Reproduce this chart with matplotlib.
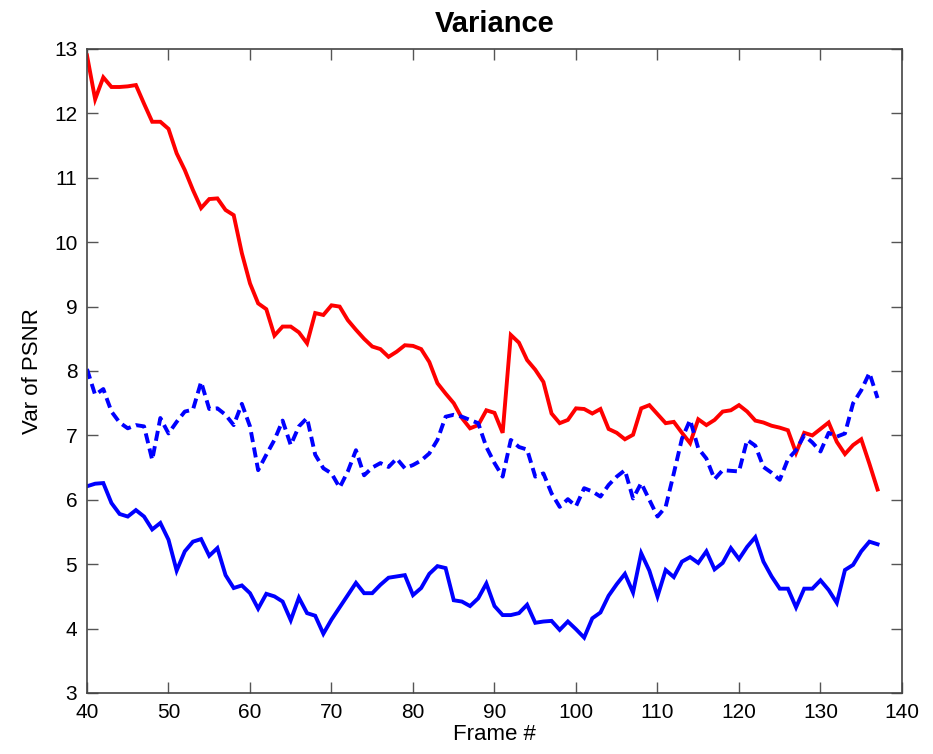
import matplotlib
matplotlib.use("Agg")
import matplotlib.pyplot as plt

plt.rcParams['font.family'] = ['Liberation Sans', 'DejaVu Sans']

frames = list(range(40, 138))

var_red = [12.9, 12.22, 12.56, 12.41, 12.41, 12.42, 12.44, 12.15, 11.87, 11.87,
           11.76, 11.38, 11.12, 10.81, 10.53, 10.67, 10.68, 10.5, 10.42, 9.83,
           9.36, 9.05, 8.96, 8.55, 8.69, 8.69, 8.6, 8.43, 8.9, 8.87,
           9.02, 9.0, 8.79, 8.64, 8.5, 8.38, 8.34, 8.22, 8.3, 8.4,
           8.39, 8.34, 8.14, 7.81, 7.65, 7.5, 7.27, 7.11, 7.16, 7.39,
           7.35, 7.04, 8.56, 8.44, 8.17, 8.02, 7.83, 7.34, 7.19, 7.24,
           7.42, 7.41, 7.34, 7.41, 7.1, 7.04, 6.94, 7.01, 7.42, 7.47,
           7.33, 7.19, 7.21, 7.04, 6.88, 7.25, 7.16, 7.24, 7.37, 7.39,
           7.47, 7.37, 7.23, 7.2, 7.15, 7.12, 7.08, 6.73, 7.04, 7.0,
           7.1, 7.2, 6.9, 6.71, 6.85, 6.94, 6.56, 6.16]

var_blue_dashed = [8.03, 7.63, 7.72, 7.37, 7.2, 7.11, 7.16, 7.14, 6.62, 7.27,
                   7.03, 7.21, 7.37, 7.4, 7.83, 7.41, 7.42, 7.32, 7.16, 7.49,
                   7.14, 6.46, 6.7, 6.93, 7.23, 6.85, 7.14, 7.27, 6.7, 6.49,
                   6.41, 6.19, 6.44, 6.77, 6.38, 6.5, 6.57, 6.51, 6.64, 6.49,
                   6.54, 6.61, 6.72, 6.93, 7.29, 7.32, 7.29, 7.24, 7.19, 6.82,
                   6.57, 6.36, 6.93, 6.82, 6.78, 6.36, 6.41, 6.1, 5.89, 6.01,
                   5.9, 6.18, 6.13, 6.05, 6.23, 6.36, 6.46, 6.02, 6.26, 6.0,
                   5.74, 5.89, 6.41, 6.95, 7.24, 6.8, 6.64, 6.32, 6.46, 6.45,
                   6.44, 6.93, 6.84, 6.51, 6.42, 6.31, 6.63, 6.77, 7.0, 6.89,
                   6.75, 7.04, 6.98, 7.03, 7.5, 7.7, 7.97, 7.58]

var_blue_solid = [6.21, 6.25, 6.26, 5.95, 5.78, 5.74, 5.84, 5.74, 5.54, 5.64,
                  5.38, 4.9, 5.2, 5.35, 5.39, 5.13, 5.25, 4.83, 4.63, 4.67,
                  4.55, 4.31, 4.54, 4.5, 4.42, 4.13, 4.48, 4.24, 4.2, 3.92,
                  4.14, 4.33, 4.52, 4.71, 4.55, 4.55, 4.68, 4.79, 4.81, 4.83,
                  4.52, 4.63, 4.85, 4.97, 4.94, 4.44, 4.42, 4.35, 4.47, 4.7,
                  4.35, 4.21, 4.21, 4.24, 4.37, 4.09, 4.11, 4.12, 3.98, 4.11,
                  3.99, 3.86, 4.16, 4.25, 4.51, 4.69, 4.85, 4.56, 5.17, 4.9,
                  4.5, 4.91, 4.8, 5.04, 5.11, 5.02, 5.2, 4.92, 5.02, 5.25,
                  5.08, 5.27, 5.42, 5.04, 4.81, 4.62, 4.62, 4.33, 4.62, 4.62,
                  4.75, 4.6, 4.4, 4.91, 4.99, 5.2, 5.35, 5.31]

x_ticks = [40, 50, 60, 70, 80, 90, 100, 110, 120, 130, 140]
y_ticks = [3, 4, 5, 6, 7, 8, 9, 10, 11, 12, 13]

fig = plt.figure(figsize=(9.33, 7.54), dpi=100)
ax = fig.add_axes([87/933, 1 - 693/754, (902 - 87)/933, (693 - 49)/754])

lw = 2.8
ax.plot(frames, var_red, color='#ff0000', lw=lw, solid_joinstyle='miter')
ax.plot(frames, var_blue_dashed, color='#0000ff', lw=lw, linestyle=(0, (2.6, 1.4)))
ax.plot(frames, var_blue_solid, color='#0000ff', lw=lw, solid_joinstyle='miter')

ax.set_xlim(40, 140)
ax.set_ylim(3, 13)
ax.set_xticks(x_ticks)
ax.set_yticks(y_ticks)
ax.tick_params(direction='in', length=8, width=1, top=True, right=True,
               labelsize=15, colors='#555555', labelcolor='black', pad=7)
for s in ax.spines.values():
    s.set_color('#444444')
    s.set_linewidth(1.2)

ax.set_title('Variance', fontsize=21, fontweight='bold', pad=12)
ax.set_xlabel('Frame #', fontsize=16, labelpad=2)
ax.set_ylabel('Var of PSNR', fontsize=16, labelpad=8)

fig.savefig('out.png', dpi=100)
